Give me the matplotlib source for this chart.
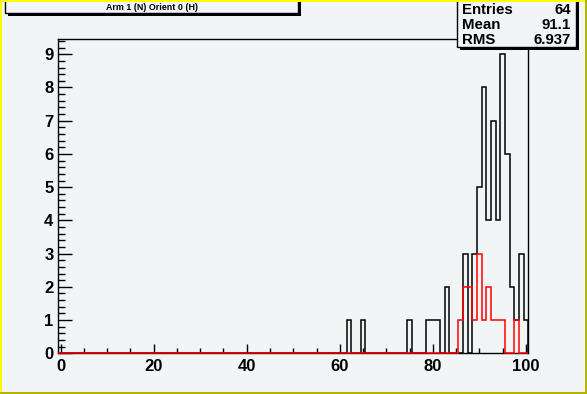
import numpy as np
import matplotlib
matplotlib.use("Agg")
import matplotlib.pyplot as plt
from matplotlib.patches import Rectangle

plt.rcParams['font.family'] = ['Liberation Sans', 'DejaVu Sans']

# histogram contents (bin centres -> counts), 101 bins from -0.5 to 100.5
black_bins = [62, 65, 75, 79, 80, 81, 83, 87, 89, 90, 91, 92, 93, 94, 95, 96, 97, 98, 99, 100]
black_counts = [1, 1, 1, 1, 1, 1, 2, 3, 3, 5, 8, 4, 7, 4, 9, 6, 2, 1, 3, 1]
red_bins = [86, 87, 88, 89, 90, 91, 92, 93, 94, 95, 98]
red_counts = [1, 2, 2, 1, 3, 1, 2, 1, 1, 1, 1]

title = "Arm 1 (N) Orient 0 (H)"
stat_names = ["Entries", "Mean", "RMS"]
stat_values = ["64", "91.1", "6.937"]

W, H = 587, 394
bg = '#f2f5f6'


def fx(px):
    return px / W


def fy(py):
    return 1 - py / H


edges = np.arange(-0.5, 101.5, 1.0)
black = np.zeros(101)
black[black_bins] = black_counts
red = np.zeros(101)
red[red_bins] = red_counts

fig = plt.figure(figsize=(W / 100, H / 100), dpi=100, facecolor=bg)
ax = fig.add_axes([fx(58.3), fy(353.3), (528.3 - 58.3) / W, (353.3 - 39.3) / H])
ax.set_facecolor(bg)

ax.stairs(black, edges, color='black', lw=1.1, zorder=3, clip_on=False)
ax.stairs(red, edges, color='red', lw=1.1, zorder=4, clip_on=False)

ax.set_xlim(-0.5, 100.5)
ax.set_ylim(0, 9.45)
ax.set_xticks(np.arange(0, 101, 20))
ax.set_xticks(np.arange(0, 101, 5), minor=True)
ax.set_yticks(np.arange(0, 10, 1))
ax.set_yticks(np.arange(0, 9.45, 0.2), minor=True)

ax.tick_params(axis='x', which='major', direction='in', length=6.8, width=1, pad=4, labelsize=12)
ax.tick_params(axis='x', which='minor', direction='in', length=3.4, width=1)
ax.tick_params(axis='y', which='major', direction='in', length=10, width=1, pad=3.5, labelsize=12)
ax.tick_params(axis='y', which='minor', direction='in', length=5, width=1)
for lab in ax.get_xticklabels() + ax.get_yticklabels():
    lab.set_fontweight('bold')
for s in ax.spines.values():
    s.set_linewidth(1)

# title box with shadow
sh = 2.5
fig.patches.append(Rectangle((fx(5 + sh), fy(13 + sh)), fx(298 - 5), fy(-10) - fy(13),
                             transform=fig.transFigure, facecolor='black', edgecolor='none', zorder=5))
fig.patches.append(Rectangle((fx(5), fy(13)), fx(298 - 5), fy(-10) - fy(13),
                             transform=fig.transFigure, facecolor=bg, edgecolor='black', lw=1, zorder=6))
fig.text(fx(152), fy(7.5), title, fontsize=6.4, fontweight='bold', ha='center', va='center', zorder=7)

# stats box with shadow
fig.patches.append(Rectangle((fx(457 + sh), fy(47 + sh)), fx(576 - 457), fy(-10) - fy(47),
                             transform=fig.transFigure, facecolor='black', edgecolor='none', zorder=5))
fig.patches.append(Rectangle((fx(457), fy(47)), fx(576 - 457), fy(-10) - fy(47),
                             transform=fig.transFigure, facecolor=bg, edgecolor='black', lw=1, zorder=6))
for i, (n, v) in enumerate(zip(stat_names, stat_values)):
    yb = 13.5 + i * 15.2
    fig.text(fx(462), fy(yb), n, fontsize=10.8, fontweight='bold', ha='left', va='baseline', zorder=7)
    fig.text(fx(571), fy(yb), v, fontsize=10.8, fontweight='bold', ha='right', va='baseline', zorder=7)

# canvas border: light top/left, dark bottom/right
fig.patches.append(Rectangle((0, 0), fx(2), 1, transform=fig.transFigure, facecolor='#ffff00', edgecolor='none', zorder=8))
fig.patches.append(Rectangle((0, fy(2)), 1, 2 / H, transform=fig.transFigure, facecolor='#ffff00', edgecolor='none', zorder=8))
fig.patches.append(Rectangle((fx(585), 0), fx(2), 1, transform=fig.transFigure, facecolor='#b4b400', edgecolor='none', zorder=9))
fig.patches.append(Rectangle((0, 0), 1, 2.5 / H, transform=fig.transFigure, facecolor='#b4b400', edgecolor='none', zorder=9))

fig.savefig("out.png", dpi=100, facecolor=bg)
